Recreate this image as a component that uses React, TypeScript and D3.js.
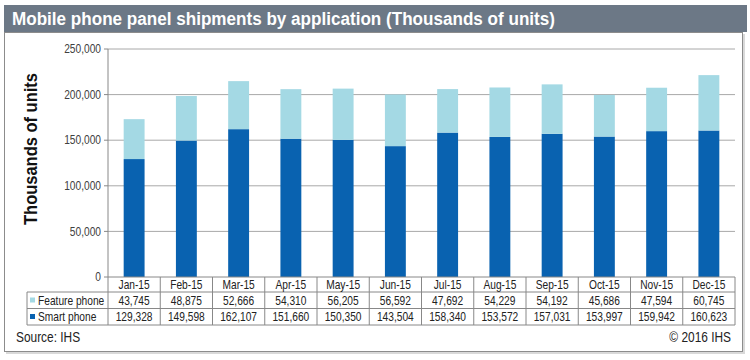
import React from "react";
import * as d3 from "d3";

const months = ["Jan-15","Feb-15","Mar-15","Apr-15","May-15","Jun-15","Jul-15","Aug-15","Sep-15","Oct-15","Nov-15","Dec-15"];
const featurePhone = [43745,48875,52666,54310,56205,56592,47692,54229,54192,45686,47594,60745];
const smartPhone = [129328,149598,162107,151660,150350,143504,158340,153572,157031,153997,159942,160623];
const yTicks = [0,50000,100000,150000,200000,250000];
const seriesNames = ["Feature phone","Smart phone"];

const W = 750, H = 360;
const FONT = "'Liberation Sans', Arial, sans-serif";
const DARK = "#0962b0";
const LIGHT = "#a4d9e4";
const SX = 0.85;

function T(props: { x: number; y: number; anchor?: string; size?: number; fill?: string; dy?: string; children: React.ReactNode }) {
  const { x, y, anchor = "start", size = 12, fill = "#222", dy, children } = props;
  return (
    <text transform={`translate(${x},${y}) scale(${SX},1)`} textAnchor={anchor} fontSize={size} fill={fill} dy={dy}>
      {children}
    </text>
  );
}

export default function App() {
  const x = d3.scaleBand<string>().domain(months).range([108, 735]).paddingInner(0.6).paddingOuter(0.3);
  const y = d3.scaleLinear().domain([0, 250000]).range([277, 49]);
  const fmt = d3.format(",");
  const step = x.step();
  const off = (step - x.bandwidth()) / 2;
  const colLeft = (m: string) => (x(m) as number) - off;
  const rowTop = 292, rowMid = 308.5, rowBot = 325;
  const gridColor = "#a8a8a8";

  return (
    <svg width={W} height={H} style={{ position: "absolute", left: 0, top: 0, background: "#fff" }} fontFamily={FONT}>
      {/* outer frame */}
      <rect x={6} y={34} width={739} height={320} fill="#d9d9d9" />
      <rect x={4.5} y={32.5} width={738} height={319} fill="#fff" stroke="#8c8c8c" />
      {/* title bar */}
      <rect x={4} y={5} width={743} height={27} fill="#6c7886" />
      <text x={12} y={25} fill="#fff" fontSize={18} fontWeight="bold" textLength={543} lengthAdjust="spacingAndGlyphs">
        Mobile phone panel shipments by application (Thousands of units)
      </text>

      {/* gridlines & y ticks */}
      {yTicks.map((t) => (
        <g key={t}>
          {t > 0 && <line x1={108} x2={735} y1={y(t)} y2={y(t)} stroke={gridColor} strokeWidth={1} />}
          <line x1={104} x2={108} y1={y(t)} y2={y(t)} stroke="#888" />
          <T x={101} y={y(t)} dy="0.35em" anchor="end" fill="#404040">{fmt(t)}</T>
        </g>
      ))}
      {/* y axis title */}
      <text transform={`translate(37,149) rotate(-90)`} textAnchor="middle" fontSize={18} fontWeight="bold" fill="#111" textLength={152} lengthAdjust="spacingAndGlyphs">
        Thousands of units
      </text>

      {/* bars */}
      {months.map((m, i) => (
        <g key={m}>
          <rect x={x(m)} width={x.bandwidth()} y={y(smartPhone[i])} height={y(0) - y(smartPhone[i])} fill={DARK} />
          <rect x={x(m)} width={x.bandwidth()} y={y(smartPhone[i] + featurePhone[i])} height={y(smartPhone[i]) - y(smartPhone[i] + featurePhone[i])} fill={LIGHT} />
        </g>
      ))}

      {/* axes lines */}
      <line x1={108} x2={108} y1={49} y2={rowBot} stroke="#888" />
      <line x1={108} x2={735} y1={277} y2={277} stroke="#888" />

      {/* data table */}
      <line x1={27} x2={735} y1={rowTop} y2={rowTop} stroke="#888" />
      <line x1={27} x2={735} y1={rowMid} y2={rowMid} stroke="#888" />
      <line x1={27} x2={735} y1={rowBot} y2={rowBot} stroke="#888" />
      <line x1={27} x2={27} y1={rowTop} y2={rowBot} stroke="#888" />
      {months.map((m) => (
        <line key={"v" + m} x1={colLeft(m) + step} x2={colLeft(m) + step} y1={277} y2={rowBot} stroke="#888" />
      ))}
      {months.map((m, i) => {
        const cx = (x(m) as number) + x.bandwidth() / 2;
        return (
          <g key={"t" + m}>
            <T x={cx} y={285} dy="0.35em" anchor="middle">{m}</T>
            <T x={cx} y={300.5} dy="0.35em" anchor="middle">{fmt(featurePhone[i])}</T>
            <T x={cx} y={317} dy="0.35em" anchor="middle">{fmt(smartPhone[i])}</T>
          </g>
        );
      })}
      {/* legend labels */}
      <rect x={30} y={297.5} width={5} height={5} fill={LIGHT} />
      <T x={38} y={300.5} dy="0.35em">{seriesNames[0]}</T>
      <rect x={30} y={314} width={5} height={5} fill={DARK} />
      <T x={38} y={317} dy="0.35em">{seriesNames[1]}</T>

      {/* footer */}
      <T x={16} y={342} size={14}>Source: IHS</T>
      <T x={731} y={342} size={14} anchor="end">© 2016 IHS</T>
    </svg>
  );
}
